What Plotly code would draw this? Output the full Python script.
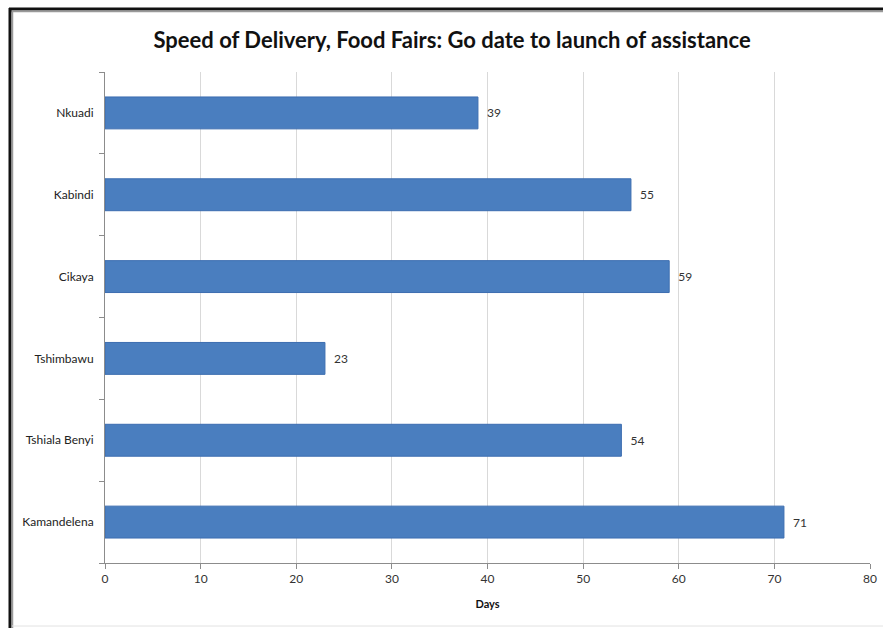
import plotly.graph_objects as go

# Days from "go" date to launch of assistance, per site
sites = ["Nkuadi", "Kabindi", "Cikaya", "Tshimbawu", "Tshiala Benyi", "Kamandelena"]
days = [39, 55, 59, 23, 54, 71]
x_ticks = [0, 10, 20, 30, 40, 50, 60, 70, 80]

W, H = 883, 628
ML, MR, MT, MB = 105, 13, 72, 65
PW, PH = W - ML - MR, H - MT - MB


def px_x(p):
    return (p - ML) / PW


def px_y(p):
    return (H - MB - p) / PH


fig = go.Figure()
fig.add_trace(go.Bar(
    y=sites,
    x=days,
    orientation="h",
    marker=dict(color="#4a7ebf", line=dict(color="#3c6db0", width=1)),
    text=["  " + str(d) for d in days],
    textposition="outside",
    textfont=dict(family="Lato", size=12, color="#333333"),
    cliponaxis=False,
    hoverinfo="x+y",
))

frame = [
    # window frame: dark top and left edges, faint bottom edge
    dict(x0=px_x(9), x1=px_x(W), y0=px_y(9), y1=px_y(9), color="#111111", width=3),
    dict(x0=px_x(10), x1=px_x(W), y0=px_y(11.5), y1=px_y(11.5), color="#9a9a9a", width=1.5),
    dict(x0=px_x(10), x1=px_x(10), y0=px_y(8), y1=px_y(H), color="#111111", width=3),
    dict(x0=px_x(12.5), x1=px_x(12.5), y0=px_y(11), y1=px_y(H), color="#9a9a9a", width=1.5),
    dict(x0=px_x(12), x1=px_x(W), y0=px_y(626), y1=px_y(626), color="#e2e2e2", width=1),
]
shapes = [
    dict(type="line", xref="paper", yref="paper", x0=s["x0"], x1=s["x1"], y0=s["y0"], y1=s["y1"],
         line=dict(color=s["color"], width=s["width"]), layer="above")
    for s in frame
]

fig.update_layout(
    width=W,
    height=H,
    autosize=False,
    margin=dict(l=ML, r=MR, t=MT, b=MB, autoexpand=False),
    paper_bgcolor="white",
    plot_bgcolor="white",
    bargap=0.61,
    showlegend=False,
    shapes=shapes,
    title=dict(
        text="<b>Speed of Delivery, Food Fairs: Go date to launch of assistance</b>",
        x=0.512, xanchor="center", y=1 - 40 / H, yanchor="middle",
        font=dict(family="Lato", size=22, color="#111111"),
    ),
    xaxis=dict(
        range=[0, 80],
        tickvals=x_ticks,
        ticktext=[str(t) for t in x_ticks],
        automargin=False,
        showgrid=True,
        gridcolor="#d9d9d9",
        gridwidth=1,
        zeroline=False,
        showline=True,
        linecolor="#8c8c8c",
        linewidth=1,
        ticks="outside",
        ticklen=5,
        tickcolor="#8c8c8c",
        tickfont=dict(family="Lato", size=12, color="#333333"),
        title=dict(text="<b>Days</b>", font=dict(family="Lato", size=11, color="#111111"), standoff=14),
    ),
    yaxis=dict(
        categoryorder="array",
        categoryarray=list(reversed(sites)),
        automargin=False,
        showgrid=False,
        zeroline=False,
        showline=True,
        linecolor="#8c8c8c",
        linewidth=1,
        ticks="outside",
        tickson="boundaries",
        ticklen=5,
        tickcolor="#8c8c8c",
        ticklabelstandoff=8,
        tickfont=dict(family="Lato", size=12, color="#222222"),
    ),
)

fig.write_html("out.html")
